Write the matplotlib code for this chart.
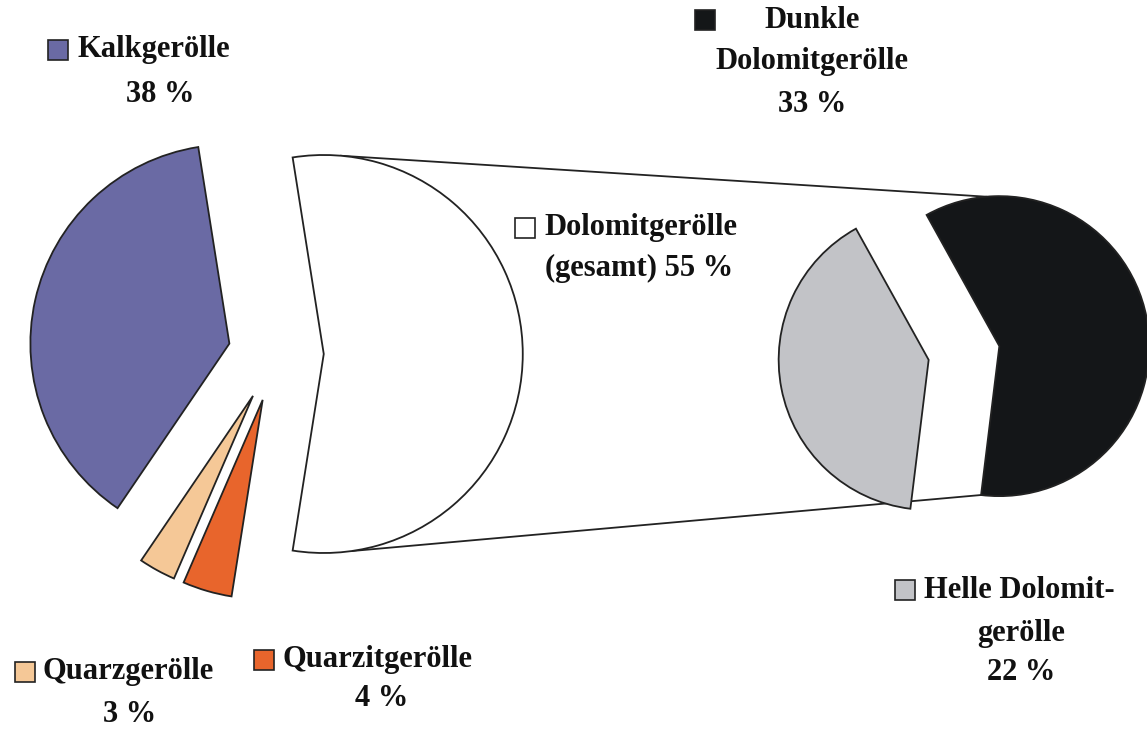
import numpy as np
import matplotlib
matplotlib.use("Agg")
import matplotlib.pyplot as plt
from matplotlib.patches import Rectangle

# data
main_labels = ["Dolomitgerölle (gesamt)", "Kalkgerölle", "Quarzgerölle", "Quarzitgerölle"]
main_values = [55, 38, 3, 4]
main_colors = ["#ffffff", "#6a6aa4", "#f5c897", "#e8652c"]

sub_labels = ["Dunkle Dolomitgerölle", "Helle Dolomitgerölle"]
sub_values = [33, 22]
sub_colors = ["#141618", "#c2c3c7"]

# layout (pixel units, y from bottom)
W, H = 1147, 730
main_center = (276, 376)
main_r = 199
main_start = -99
sub_center = (964, 377)
sub_r = 150
sub_start = -97
expl = 0.24   # explode, as a fraction of the radius

plt.rcParams['font.family'] = ['Liberation Serif', 'DejaVu Serif']

fig = plt.figure(figsize=(W / 100, H / 100), dpi=100)
ax = fig.add_axes([0, 0, 1, 1])

wp = dict(edgecolor="#222222", linewidth=1.3)
# matplotlib's explode is in data units, so scale it by the radius
ax.pie(main_values, colors=main_colors, center=main_center, radius=main_r,
       startangle=main_start, counterclock=True,
       explode=[expl * main_r] * len(main_values), wedgeprops=wp)
ax.pie(sub_values, colors=sub_colors, center=sub_center, radius=sub_r,
       startangle=sub_start, counterclock=True,
       explode=[expl * sub_r] * len(sub_values), wedgeprops=wp)

# connector lines between the Dolomit slice and the second pie
def apex(center, r, start, values, i):
    tot = sum(values)
    a0 = start + 360 * sum(values[:i]) / tot
    a1 = a0 + 360 * values[i] / tot
    mid = np.deg2rad((a0 + a1) / 2)
    return center[0] + expl * r * np.cos(mid), center[1] + expl * r * np.sin(mid)

def on_arc(p, r, ang):
    a = np.deg2rad(ang)
    return p[0] + r * np.cos(a), p[1] + r * np.sin(a)

dol = apex(main_center, main_r, main_start, main_values, 0)
blk = apex(sub_center, sub_r, sub_start, sub_values, 0)
for a_from, a_to in [(85, 95), (-82, -97)]:
    p0 = on_arc(dol, main_r, a_from)
    p1 = on_arc(blk, sub_r, a_to)
    ax.plot([p0[0], p1[0]], [p0[1], p1[1]], color="#222222", lw=1.3, zorder=0)

# labels with small colour squares
fs = 22
tk = dict(fontsize=fs, fontweight="bold", color="#111111")

def square(x, y, c):
    ax.add_patch(Rectangle((x - 10, H - y - 10), 20, 20, facecolor=c,
                           edgecolor="#222222", lw=1.2, zorder=5))

def txt(x, y, s, ha="left"):
    ax.text(x, H - y, s, ha=ha, va="center", **tk)

square(58, 50, main_colors[1])
txt(77, 50, "Kalkgerölle")
txt(160, 95, "38 %", ha="center")

square(705, 20, sub_colors[0])
txt(812, 20, "Dunkle", ha="center")
txt(812, 62, "Dolomitgerölle", ha="center")
txt(812, 104, "33 %", ha="center")

square(525, 228, main_colors[0])
txt(544, 228, "Dolomitgerölle")
txt(545, 268, "(gesamt) 55 %")

square(905, 590, sub_colors[1])
txt(924, 590, "Helle Dolomit-")
txt(1021, 633, "gerölle", ha="center")
txt(1021, 673, "22 %", ha="center")

square(25, 672, main_colors[2])
txt(42, 672, "Quarzgerölle")
txt(130, 714, "3 %", ha="center")

square(264, 660, main_colors[3])
txt(283, 660, "Quarzitgerölle")
txt(382, 698, "4 %", ha="center")

ax.set_xlim(0, W)
ax.set_ylim(0, H)
ax.set_aspect("auto")
ax.axis("off")

fig.savefig("out.png", dpi=100, facecolor="white")
